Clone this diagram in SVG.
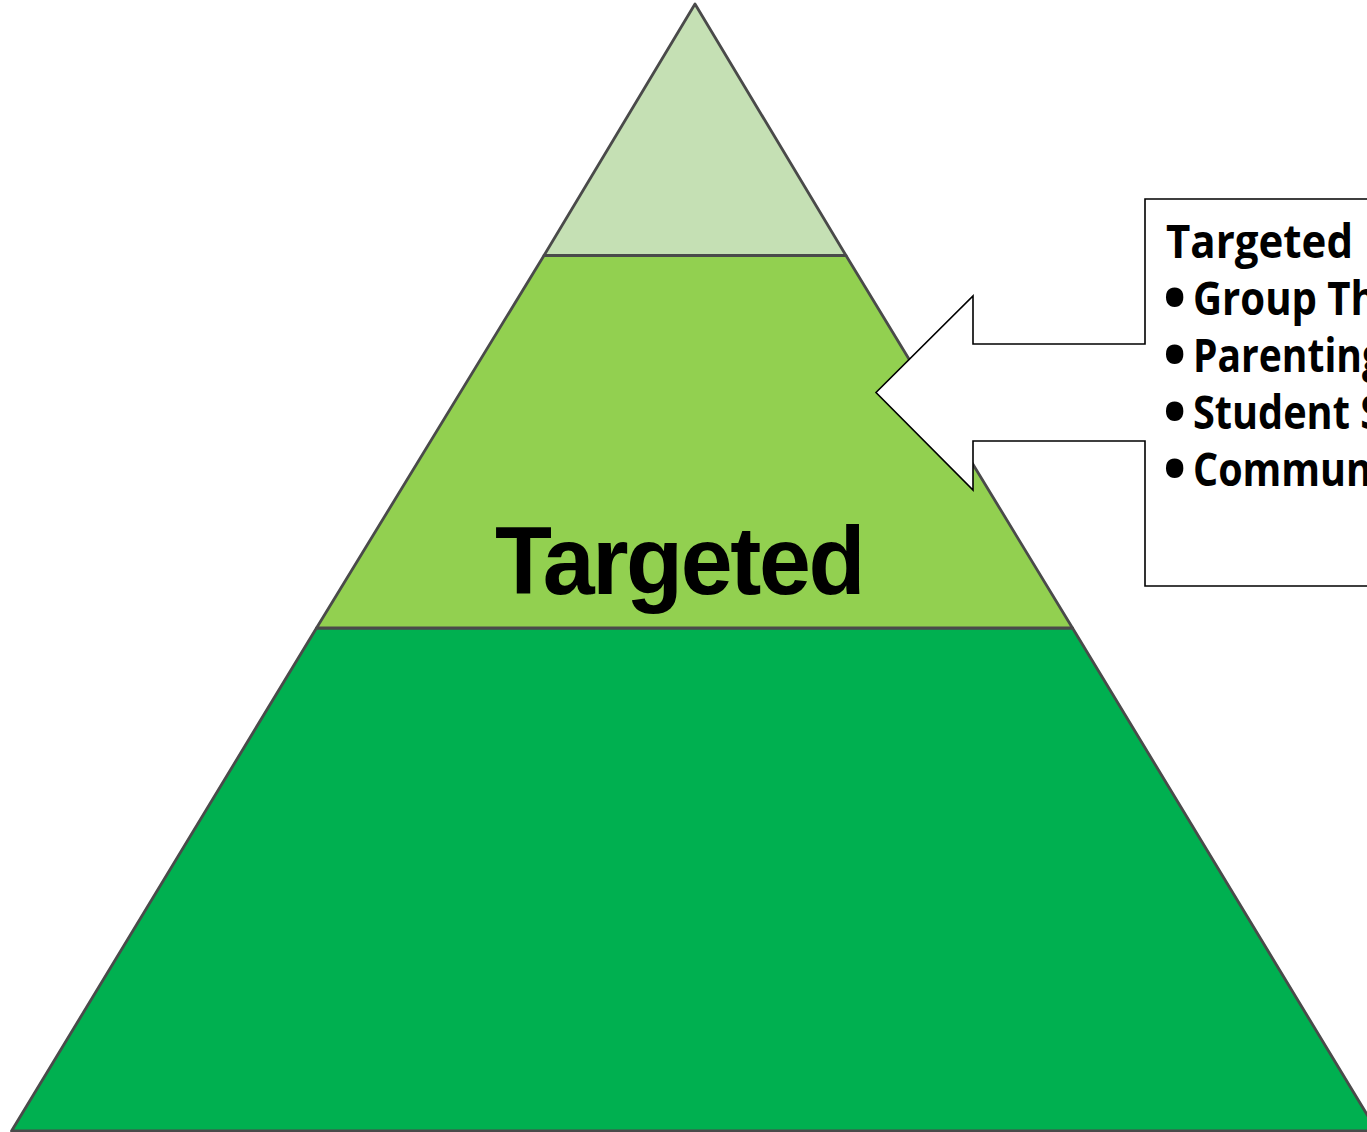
<svg xmlns="http://www.w3.org/2000/svg" width="1367" height="1132" viewBox="0 0 1367 1132">
<style>
.tier{stroke:#4a4a4a;stroke-width:2.8;stroke-linejoin:round}
.big{font-family:"Liberation Sans",Arial,sans-serif;font-weight:bold;font-size:97px;letter-spacing:-2.5px;fill:#000}
.call{fill:#fff;stroke:#000;stroke-width:1.6}
.ct{font-family:"Open Sans","Noto Sans",sans-serif;font-weight:bold;font-size:47px;fill:#000}
.bul{font-size:62px}
</style>
<rect width="1367" height="1132" fill="#fff"/>
<g id="tier-bottom">
<polygon class="tier" points="316.5,628 1072.5,628 1377,1131 11.5,1131" fill="#00B050"/>
</g>
<g id="tier-middle">
<polygon class="tier" points="544,255.5 846,255.5 1072.5,628 316.5,628" fill="#92D050"/>
<text class="big" x="495" y="594" textLength="368" lengthAdjust="spacingAndGlyphs">Targeted</text>
</g>
<g id="tier-top">
<polygon class="tier" points="695,4 846,255.5 544,255.5" fill="#C5E0B4"/>
</g>
<g id="connectors">
<polygon class="call" points="1145,199 1385,199 1385,586 1145,586 1145,441 973,441 973,490 876,392.5 973,296 973,344 1145,344"/>
</g>
<g id="callout-text">
<text class="ct" x="1166" y="258" textLength="187" lengthAdjust="spacingAndGlyphs">Targeted</text>
<text class="ct" x="1163" y="315"><tspan class="bul" y="320">•</tspan><tspan x="1193" y="315" textLength="184" lengthAdjust="spacingAndGlyphs">Group Th</tspan></text>
<text class="ct" x="1163" y="372"><tspan class="bul" y="377">•</tspan><tspan x="1193" y="372" textLength="191" lengthAdjust="spacingAndGlyphs">Parenting</tspan></text>
<text class="ct" x="1163" y="429"><tspan class="bul" y="434">•</tspan><tspan x="1193" y="429" textLength="189" lengthAdjust="spacingAndGlyphs">Student S</tspan></text>
<text class="ct" x="1163" y="486"><tspan class="bul" y="491">•</tspan><tspan x="1193" y="486" textLength="179" lengthAdjust="spacingAndGlyphs">Commun</tspan></text>
</g>
</svg>
